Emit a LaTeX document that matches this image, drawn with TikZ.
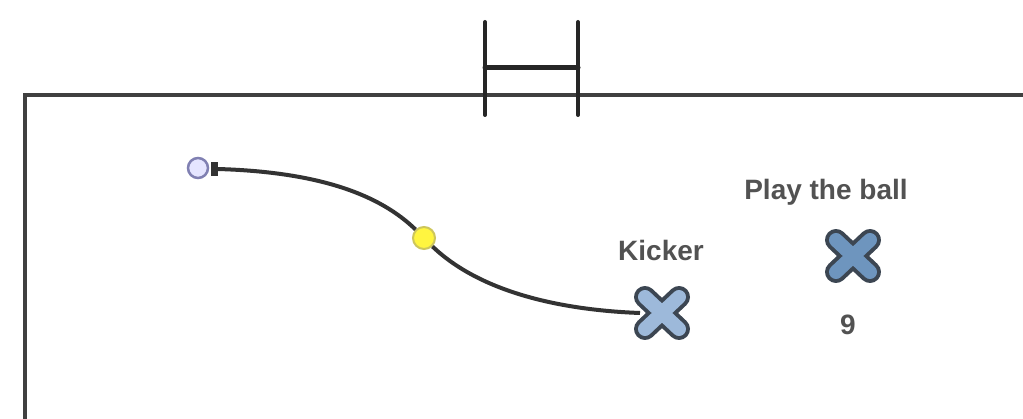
\documentclass[tikz,border=0pt]{standalone}
\usepackage{fontspec}
\setmainfont{Liberation Sans}
\definecolor{xout}{HTML}{3C4652}
\definecolor{xin}{HTML}{6E95BE}
\definecolor{xinl}{HTML}{9DB9DA}
\begin{document}
\begin{tikzpicture}[x=1pt,y=-1pt,
  pitch/.style={draw=black!75,line width=3.5pt},
  post/.style={draw=black!85,line width=4pt,line cap=round},
  lbl/.style={text=black!68,font=\bfseries\fontsize{28}{30}\selectfont,inner sep=0pt,anchor=base},
  xmark/.style={xfill/.initial=xin},
  pics/xmark/.style={code={
    \draw[line width=22pt,line cap=round,draw=xout] (-17,-16) -- (17,16) (-17,16) -- (17,-16);
    \draw[line width=14pt,line cap=round,draw=#1] (-17,-16) -- (17,16) (-17,16) -- (17,-16);
  }}]
\useasboundingbox (0,0) rectangle (1023,419);
% pitch
\draw[pitch] (1023,95) -- (25,95) -- (25,419);
% goal
\coordinate (gl) at (485,22);
\coordinate (gr) at (578,22);
\draw[post] (gl) -- (485,115);
\draw[post] (gr) -- (578,115);
\draw[post,line width=5pt] (485,68) -- (578,68);
% players
\coordinate (kicker) at (662,313);
\coordinate (player) at (853,256);
\pic at (kicker) {xmark=xinl};
\pic at (player) {xmark=xin};
\node[lbl] (klbl) at (661,261) {Kicker};
\node[lbl] (plbl) at (826,200) {Play the ball};
\node[lbl] (num) at (848,335) {9};
% ball and run
\node[circle,draw=blue!25!gray!80,line width=2.5pt,fill=blue!10!white,minimum size=20pt,inner sep=0pt] (ball) at (198,168) {};
\node[circle,draw=yellow!55!gray,line width=2pt,fill=yellow!75!white,minimum size=22pt,inner sep=0pt] (pass) at (424,238) {};
\node[fill=black!80,minimum width=7pt,minimum height=14pt,inner sep=0pt] (start) at (214,169) {};
\draw[black!80,line width=4pt] (start.east) .. controls (320,172) and (380,195) .. (pass.north west);
\draw[black!80,line width=4pt] (pass.south east) .. controls (480,292) and (560,310) .. ([xshift=-22pt]kicker);
\end{tikzpicture}
\end{document}
